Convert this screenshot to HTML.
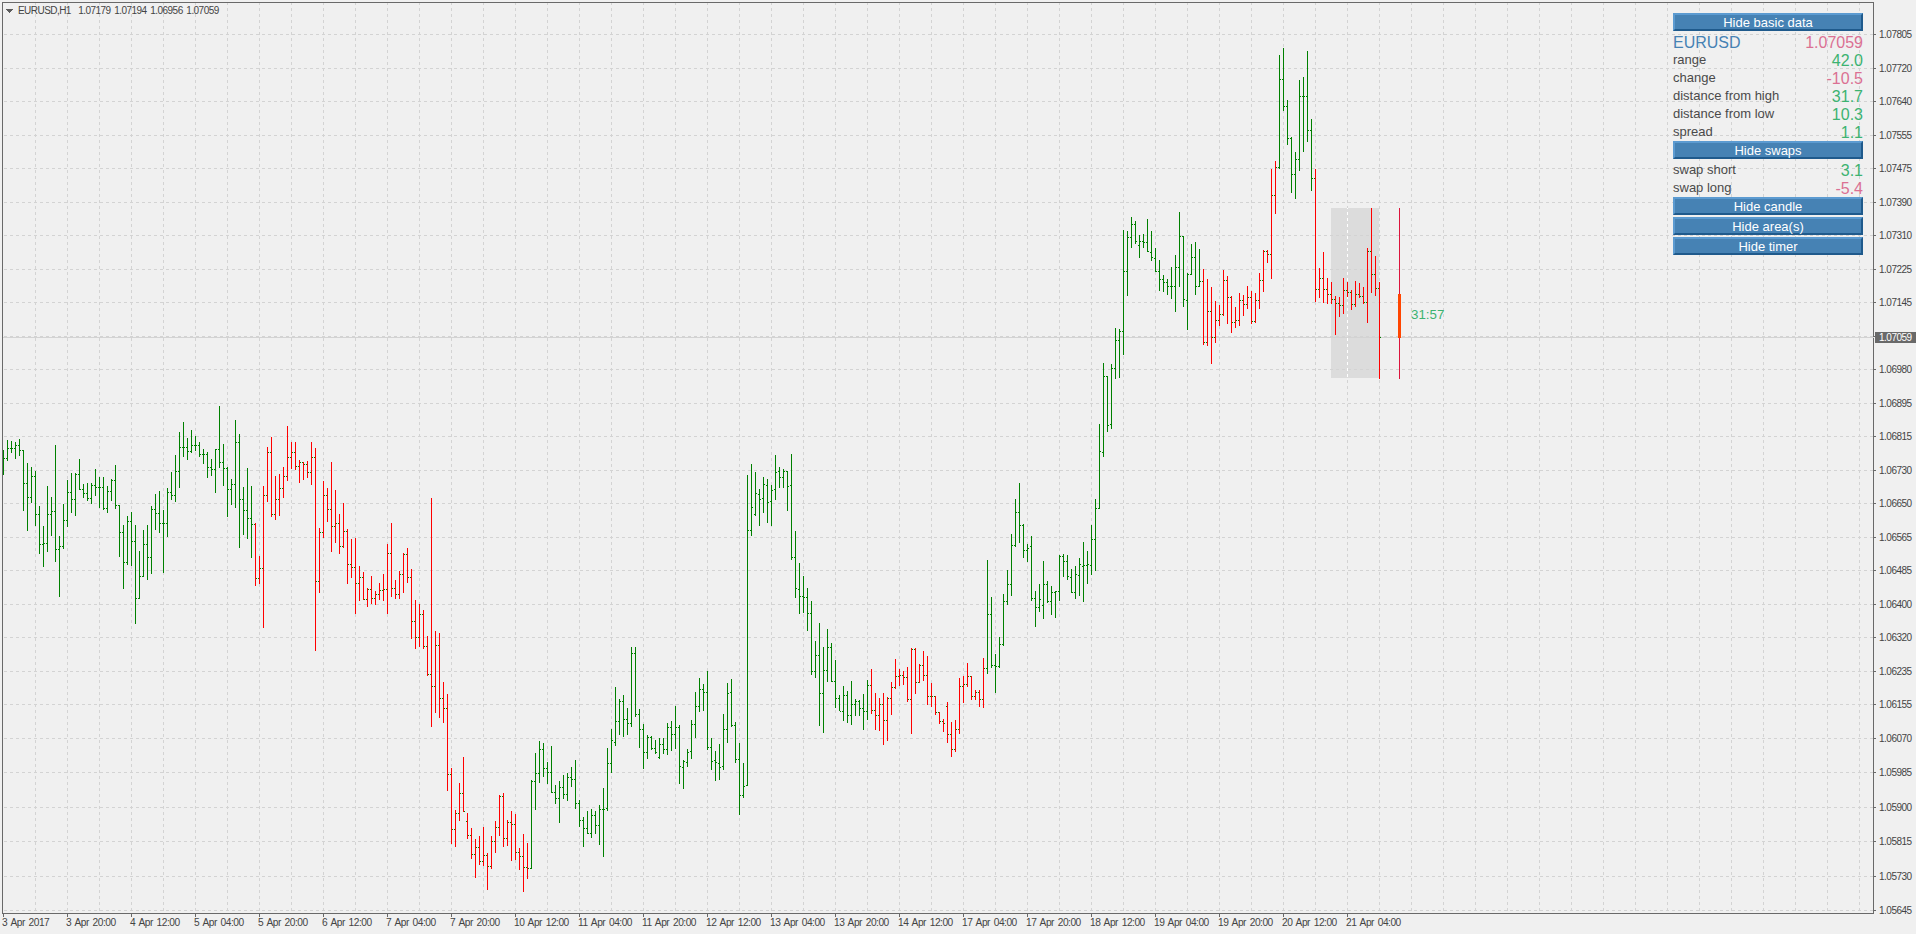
<!DOCTYPE html>
<html><head><meta charset="utf-8"><style>
html,body{margin:0;padding:0;background:#f0f0f0;width:1916px;height:934px;overflow:hidden;}
body{position:relative;font-family:"Liberation Sans", sans-serif;}
svg{position:absolute;left:0;top:0;}
.t{position:absolute;white-space:nowrap;line-height:1;}
.ax{font-size:10.2px;color:#444444;letter-spacing:-0.5px;word-spacing:1.5px;}
.pl{font-size:10px;color:#444444;letter-spacing:-0.5px;left:1879px;}
.lb{font-size:13px;color:#4a4a4a;left:1673px;}
.vl{font-size:16px;right:53px;}
.btn{position:absolute;left:1673px;width:190px;height:18px;box-sizing:border-box;background:#4682b4;
border-top:2px solid #5c9bd1;border-left:2px solid #5c9bd1;border-bottom:2px solid #1f5a8c;border-right:2px solid #1f5a8c;
color:#fff;font-size:13px;text-align:center;line-height:16px;}
.g{color:#3cb371;} .p{color:#db7093;}
</style></head><body>
<svg width="1916" height="934" viewBox="0 0 1916 934" shape-rendering="crispEdges">
<path d="M35.5 3V913M67.5 3V913M99.5 3V913M131.5 3V913M163.5 3V913M195.5 3V913M227.5 3V913M259.5 3V913M291.5 3V913M323.5 3V913M355.5 3V913M387.5 3V913M419.5 3V913M451.5 3V913M483.5 3V913M515.5 3V913M547.5 3V913M579.5 3V913M611.5 3V913M643.5 3V913M675.5 3V913M707.5 3V913M739.5 3V913M771.5 3V913M803.5 3V913M835.5 3V913M867.5 3V913M899.5 3V913M931.5 3V913M963.5 3V913M995.5 3V913M1027.5 3V913M1059.5 3V913M1091.5 3V913M1123.5 3V913M1155.5 3V913M1187.5 3V913M1219.5 3V913M1251.5 3V913M1283.5 3V913M1315.5 3V913M1347.5 3V913M1379.5 3V913M1411.5 3V913M1443.5 3V913M1475.5 3V913M1507.5 3V913M1539.5 3V913M1571.5 3V913M1603.5 3V913M1635.5 3V913M1667.5 3V913M1699.5 3V913M1731.5 3V913M1763.5 3V913M1795.5 3V913M1827.5 3V913M1859.5 3V913" stroke="#d3d3d3" stroke-width="1" stroke-dasharray="3 3" stroke-dashoffset="1" fill="none"/>
<rect x="1331" y="208" width="48" height="170" fill="#dcdcdc"/>
<path d="M1347.5 208V378" stroke="#ffffff" stroke-dasharray="3 3" stroke-dashoffset="2" fill="none"/>
<path d="M4 34.5H1873M4 68.5H1873M4 101.5H1873M4 135.5H1873M4 168.5H1873M4 202.5H1873M4 235.5H1873M4 269.5H1873M4 302.5H1873M4 336.5H1873M4 369.5H1873M4 403.5H1873M4 436.5H1873M4 470.5H1873M4 503.5H1873M4 537.5H1873M4 570.5H1873M4 604.5H1873M4 637.5H1873M4 671.5H1873M4 704.5H1873M4 738.5H1873M4 772.5H1873M4 807.5H1873M4 841.5H1873M4 876.5H1873M4 910.5H1873" stroke="#d3d3d3" stroke-width="1" stroke-dasharray="3 3" fill="none"/>
<rect x="3" y="337" width="1871" height="1" fill="#d3d3d3"/>
<path d="M3 450h1v25h-1zM7 440h1v21h-1zM11 441h1v12h-1zM15 442h1v17h-1zM19 439h1v17h-1zM23 450h1v61h-1zM27 463h1v68h-1zM31 467h1v36h-1zM35 471h1v55h-1zM39 506h1v48h-1zM43 526h1v41h-1zM47 486h1v66h-1zM51 497h1v39h-1zM55 445h1v117h-1zM59 536h1v61h-1zM63 504h1v45h-1zM67 480h1v47h-1zM71 473h1v40h-1zM75 473h1v43h-1zM79 459h1v31h-1zM83 484h1v14h-1zM87 483h1v18h-1zM91 483h1v21h-1zM95 469h1v27h-1zM99 477h1v31h-1zM103 477h1v33h-1zM107 486h1v27h-1zM111 479h1v22h-1zM115 465h1v44h-1zM119 505h1v52h-1zM123 525h1v64h-1zM127 516h1v49h-1zM131 512h1v54h-1zM135 525h1v99h-1zM139 551h1v48h-1zM143 530h1v47h-1zM147 525h1v55h-1zM151 506h1v68h-1zM155 494h1v36h-1zM159 491h1v42h-1zM163 510h1v63h-1zM167 488h1v49h-1zM171 472h1v28h-1zM175 455h1v47h-1zM179 432h1v56h-1zM183 422h1v35h-1zM187 438h1v22h-1zM191 430h1v23h-1zM195 436h1v15h-1zM199 442h1v15h-1zM203 449h1v15h-1zM207 452h1v26h-1zM211 459h1v17h-1zM215 449h1v44h-1zM219 406h1v62h-1zM223 444h1v42h-1zM227 467h1v50h-1zM231 479h1v26h-1zM235 420h1v88h-1zM239 434h1v114h-1zM243 487h1v48h-1zM247 468h1v71h-1zM251 486h1v72h-1zM531 780h1v89h-1zM535 753h1v57h-1zM539 741h1v42h-1zM543 743h1v34h-1zM547 762h1v22h-1zM551 746h1v47h-1zM555 785h1v19h-1zM559 781h1v42h-1zM563 775h1v24h-1zM567 773h1v28h-1zM571 767h1v20h-1zM575 760h1v49h-1zM579 800h1v27h-1zM583 817h1v30h-1zM587 811h1v23h-1zM591 809h1v29h-1zM595 811h1v23h-1zM599 805h1v40h-1zM603 788h1v69h-1zM607 748h1v63h-1zM611 729h1v44h-1zM615 687h1v59h-1zM619 699h1v36h-1zM623 695h1v42h-1zM627 708h1v27h-1zM631 647h1v80h-1zM635 647h1v70h-1zM639 709h1v39h-1zM643 724h1v45h-1zM647 735h1v24h-1zM651 736h1v14h-1zM655 740h1v14h-1zM659 738h1v21h-1zM663 738h1v16h-1zM667 723h1v32h-1zM671 721h1v30h-1zM675 706h1v43h-1zM679 725h1v59h-1zM683 760h1v29h-1zM687 749h1v18h-1zM691 720h1v39h-1zM695 692h1v46h-1zM699 678h1v34h-1zM703 684h1v27h-1zM707 671h1v79h-1zM711 738h1v32h-1zM715 751h1v30h-1zM719 744h1v36h-1zM723 714h1v56h-1zM727 683h1v60h-1zM731 679h1v48h-1zM735 722h1v41h-1zM739 743h1v72h-1zM743 763h1v35h-1zM747 475h1v311h-1zM751 464h1v72h-1zM755 472h1v44h-1zM759 489h1v37h-1zM763 477h1v36h-1zM767 479h1v44h-1zM771 485h1v41h-1zM775 455h1v45h-1zM779 467h1v21h-1zM783 469h1v19h-1zM787 471h1v40h-1zM791 454h1v106h-1zM795 531h1v67h-1zM799 563h1v51h-1zM803 576h1v37h-1zM807 588h1v43h-1zM811 601h1v74h-1zM815 641h1v37h-1zM819 623h1v103h-1zM823 647h1v86h-1zM827 629h1v53h-1zM831 643h1v39h-1zM835 660h1v48h-1zM839 695h1v16h-1zM843 686h1v35h-1zM847 691h1v32h-1zM851 681h1v44h-1zM855 699h1v17h-1zM859 700h1v16h-1zM863 694h1v36h-1zM867 680h1v40h-1zM987 560h1v114h-1zM991 597h1v71h-1zM995 654h1v39h-1zM999 637h1v31h-1zM1003 594h1v52h-1zM1007 570h1v35h-1zM1011 534h1v62h-1zM1015 499h1v48h-1zM1019 483h1v60h-1zM1023 524h1v34h-1zM1027 544h1v18h-1zM1031 536h1v65h-1zM1035 591h1v36h-1zM1039 584h1v28h-1zM1043 561h1v58h-1zM1047 581h1v22h-1zM1051 586h1v29h-1zM1055 591h1v27h-1zM1059 555h1v46h-1zM1063 554h1v23h-1zM1067 555h1v25h-1zM1071 569h1v24h-1zM1075 566h1v33h-1zM1079 558h1v38h-1zM1083 542h1v60h-1zM1087 551h1v33h-1zM1091 525h1v50h-1zM1095 499h1v72h-1zM1099 424h1v85h-1zM1103 363h1v94h-1zM1107 376h1v56h-1zM1111 364h1v65h-1zM1115 328h1v51h-1zM1119 329h1v49h-1zM1123 230h1v125h-1zM1127 231h1v65h-1zM1131 217h1v31h-1zM1135 221h1v23h-1zM1139 235h1v23h-1zM1143 234h1v14h-1zM1147 219h1v33h-1zM1151 231h1v30h-1zM1155 248h1v24h-1zM1159 260h1v31h-1zM1163 275h1v17h-1zM1167 279h1v16h-1zM1171 267h1v32h-1zM1175 255h1v57h-1zM1179 212h1v75h-1zM1183 236h1v71h-1zM1187 273h1v57h-1zM1191 244h1v31h-1zM1195 242h1v53h-1zM1199 249h1v38h-1zM1279 55h1v114h-1zM1283 48h1v63h-1zM1287 100h1v45h-1zM1291 137h1v56h-1zM1295 152h1v47h-1zM1299 80h1v91h-1zM1303 77h1v75h-1zM1307 51h1v91h-1zM1311 119h1v72h-1z" fill="#008000"/>
<path d="M255 523h1v63h-1zM259 556h1v28h-1zM263 486h1v142h-1zM267 447h1v55h-1zM271 437h1v80h-1zM275 476h1v44h-1zM279 474h1v42h-1zM283 467h1v31h-1zM287 426h1v55h-1zM291 442h1v27h-1zM295 442h1v28h-1zM299 460h1v23h-1zM303 462h1v18h-1zM307 461h1v17h-1zM311 442h1v43h-1zM315 448h1v203h-1zM319 528h1v65h-1zM323 481h1v57h-1zM327 488h1v34h-1zM331 462h1v90h-1zM335 490h1v53h-1zM339 514h1v40h-1zM343 503h1v45h-1zM347 529h1v55h-1zM351 539h1v39h-1zM355 538h1v76h-1zM359 566h1v35h-1zM363 572h1v28h-1zM367 588h1v19h-1zM371 576h1v28h-1zM375 591h1v14h-1zM379 583h1v17h-1zM383 574h1v27h-1zM387 544h1v70h-1zM391 523h1v74h-1zM395 580h1v19h-1zM399 571h1v28h-1zM403 553h1v40h-1zM407 548h1v35h-1zM411 569h1v70h-1zM415 600h1v49h-1zM419 604h1v43h-1zM423 610h1v39h-1zM427 636h1v40h-1zM431 498h1v229h-1zM435 631h1v82h-1zM439 633h1v85h-1zM443 682h1v41h-1zM447 694h1v97h-1zM451 768h1v76h-1zM455 810h1v37h-1zM459 783h1v38h-1zM463 757h1v55h-1zM467 813h1v26h-1zM471 828h1v31h-1zM475 839h1v39h-1zM479 836h1v29h-1zM483 827h1v39h-1zM487 853h1v37h-1zM491 836h1v33h-1zM495 821h1v32h-1zM499 795h1v41h-1zM503 793h1v54h-1zM507 820h1v26h-1zM511 811h1v50h-1zM515 814h1v46h-1zM519 848h1v22h-1zM523 834h1v58h-1zM527 843h1v36h-1zM871 669h1v45h-1zM875 693h1v37h-1zM879 698h1v33h-1zM883 693h1v52h-1zM887 697h1v44h-1zM891 682h1v33h-1zM895 659h1v30h-1zM899 669h1v17h-1zM903 671h1v14h-1zM907 667h1v35h-1zM911 648h1v86h-1zM915 648h1v46h-1zM919 664h1v19h-1zM923 651h1v30h-1zM927 656h1v49h-1zM931 683h1v24h-1zM935 696h1v19h-1zM939 712h1v12h-1zM943 719h1v13h-1zM947 702h1v41h-1zM951 722h1v35h-1zM955 720h1v32h-1zM959 678h1v56h-1zM963 676h1v27h-1zM967 663h1v24h-1zM971 676h1v24h-1zM975 690h1v10h-1zM979 690h1v17h-1zM983 658h1v50h-1zM1203 269h1v76h-1zM1207 279h1v67h-1zM1211 287h1v77h-1zM1215 301h1v42h-1zM1219 305h1v21h-1zM1223 270h1v46h-1zM1227 276h1v48h-1zM1231 296h1v37h-1zM1235 307h1v21h-1zM1239 293h1v33h-1zM1243 295h1v21h-1zM1247 286h1v23h-1zM1251 291h1v33h-1zM1255 293h1v30h-1zM1259 273h1v36h-1zM1263 250h1v42h-1zM1267 250h1v13h-1zM1271 169h1v110h-1zM1275 161h1v53h-1zM1315 169h1v133h-1zM1319 268h1v30h-1zM1323 252h1v51h-1zM1327 278h1v26h-1zM1331 282h1v22h-1zM1335 296h1v39h-1zM1339 297h1v20h-1zM1343 278h1v36h-1zM1347 282h1v15h-1zM1351 290h1v20h-1zM1355 281h1v26h-1zM1359 283h1v15h-1zM1363 287h1v17h-1zM1367 248h1v75h-1zM1371 208h1v85h-1zM1375 256h1v40h-1zM1379 282h1v97h-1z" fill="#ff0000"/>
<path d="M2 458h1v1h-1zM4 458h1v1h-1zM6 458h1v1h-1zM8 448h1v1h-1zM10 448h1v1h-1zM12 448h1v1h-1zM14 448h1v1h-1zM16 445h1v1h-1zM18 445h1v1h-1zM20 450h1v1h-1zM22 450h1v1h-1zM24 483h1v1h-1zM26 483h1v1h-1zM28 497h1v1h-1zM30 497h1v1h-1zM32 476h1v1h-1zM34 476h1v1h-1zM36 514h1v1h-1zM38 514h1v1h-1zM40 544h1v1h-1zM42 544h1v1h-1zM44 543h1v1h-1zM46 543h1v1h-1zM48 514h1v1h-1zM50 514h1v1h-1zM52 511h1v1h-1zM54 511h1v1h-1zM56 549h1v1h-1zM58 549h1v1h-1zM60 546h1v1h-1zM62 546h1v1h-1zM64 520h1v1h-1zM66 520h1v1h-1zM68 492h1v1h-1zM70 492h1v1h-1zM72 499h1v1h-1zM74 499h1v1h-1zM76 474h1v1h-1zM78 474h1v1h-1zM80 489h1v1h-1zM82 489h1v1h-1zM84 493h1v1h-1zM86 493h1v1h-1zM88 498h1v1h-1zM90 498h1v1h-1zM92 485h1v1h-1zM94 485h1v1h-1zM96 487h1v1h-1zM98 487h1v1h-1zM100 487h1v1h-1zM102 487h1v1h-1zM104 508h1v1h-1zM106 508h1v1h-1zM108 491h1v1h-1zM110 491h1v1h-1zM112 480h1v1h-1zM114 480h1v1h-1zM116 505h1v1h-1zM118 505h1v1h-1zM120 532h1v1h-1zM122 532h1v1h-1zM124 562h1v1h-1zM126 562h1v1h-1zM128 521h1v1h-1zM130 521h1v1h-1zM132 541h1v1h-1zM134 541h1v1h-1zM136 598h1v1h-1zM138 598h1v1h-1zM140 576h1v1h-1zM142 576h1v1h-1zM144 544h1v1h-1zM146 544h1v1h-1zM148 557h1v1h-1zM150 557h1v1h-1zM152 509h1v1h-1zM154 509h1v1h-1zM156 513h1v1h-1zM158 513h1v1h-1zM160 523h1v1h-1zM162 523h1v1h-1zM164 523h1v1h-1zM166 523h1v1h-1zM168 492h1v1h-1zM170 492h1v1h-1zM172 495h1v1h-1zM174 495h1v1h-1zM176 471h1v1h-1zM178 471h1v1h-1zM180 447h1v1h-1zM182 447h1v1h-1zM184 447h1v1h-1zM186 447h1v1h-1zM188 451h1v1h-1zM190 451h1v1h-1zM192 445h1v1h-1zM194 445h1v1h-1zM196 445h1v1h-1zM198 445h1v1h-1zM200 454h1v1h-1zM202 454h1v1h-1zM204 454h1v1h-1zM206 454h1v1h-1zM208 467h1v1h-1zM210 467h1v1h-1zM212 469h1v1h-1zM214 469h1v1h-1zM216 449h1v1h-1zM218 449h1v1h-1zM220 462h1v1h-1zM222 462h1v1h-1zM224 468h1v1h-1zM226 468h1v1h-1zM228 489h1v1h-1zM230 489h1v1h-1zM232 484h1v1h-1zM234 484h1v1h-1zM236 442h1v1h-1zM238 442h1v1h-1zM240 499h1v1h-1zM242 499h1v1h-1zM244 510h1v1h-1zM246 510h1v1h-1zM248 518h1v1h-1zM250 518h1v1h-1zM252 524h1v1h-1zM254 524h1v1h-1zM256 578h1v1h-1zM258 578h1v1h-1zM260 568h1v1h-1zM262 568h1v1h-1zM264 495h1v1h-1zM266 495h1v1h-1zM268 452h1v1h-1zM270 452h1v1h-1zM272 514h1v1h-1zM274 514h1v1h-1zM276 499h1v1h-1zM278 499h1v1h-1zM280 488h1v1h-1zM282 488h1v1h-1zM284 476h1v1h-1zM286 476h1v1h-1zM288 457h1v1h-1zM290 457h1v1h-1zM292 452h1v1h-1zM294 452h1v1h-1zM296 466h1v1h-1zM298 466h1v1h-1zM300 462h1v1h-1zM302 462h1v1h-1zM304 464h1v1h-1zM306 464h1v1h-1zM308 472h1v1h-1zM310 472h1v1h-1zM312 457h1v1h-1zM314 457h1v1h-1zM316 581h1v1h-1zM318 581h1v1h-1zM320 532h1v1h-1zM322 532h1v1h-1zM324 495h1v1h-1zM326 495h1v1h-1zM328 509h1v1h-1zM330 509h1v1h-1zM332 526h1v1h-1zM334 526h1v1h-1zM336 523h1v1h-1zM338 523h1v1h-1zM340 546h1v1h-1zM342 546h1v1h-1zM344 531h1v1h-1zM346 531h1v1h-1zM348 564h1v1h-1zM350 564h1v1h-1zM352 567h1v1h-1zM354 567h1v1h-1zM356 583h1v1h-1zM358 583h1v1h-1zM360 577h1v1h-1zM362 577h1v1h-1zM364 599h1v1h-1zM366 599h1v1h-1zM368 589h1v1h-1zM370 589h1v1h-1zM372 598h1v1h-1zM374 598h1v1h-1zM376 594h1v1h-1zM378 594h1v1h-1zM380 590h1v1h-1zM382 590h1v1h-1zM384 589h1v1h-1zM386 589h1v1h-1zM388 553h1v1h-1zM390 553h1v1h-1zM392 588h1v1h-1zM394 588h1v1h-1zM396 594h1v1h-1zM398 594h1v1h-1zM400 574h1v1h-1zM402 574h1v1h-1zM404 554h1v1h-1zM406 554h1v1h-1zM408 577h1v1h-1zM410 577h1v1h-1zM412 621h1v1h-1zM414 621h1v1h-1zM416 637h1v1h-1zM418 637h1v1h-1zM420 614h1v1h-1zM422 614h1v1h-1zM424 646h1v1h-1zM426 646h1v1h-1zM428 674h1v1h-1zM430 674h1v1h-1zM432 686h1v1h-1zM434 686h1v1h-1zM436 645h1v1h-1zM438 645h1v1h-1zM440 698h1v1h-1zM442 698h1v1h-1zM444 708h1v1h-1zM446 708h1v1h-1zM448 774h1v1h-1zM450 774h1v1h-1zM452 829h1v1h-1zM454 829h1v1h-1zM456 813h1v1h-1zM458 813h1v1h-1zM460 793h1v1h-1zM462 793h1v1h-1zM464 811h1v1h-1zM466 821h1v1h-1zM468 835h1v1h-1zM470 835h1v1h-1zM472 854h1v1h-1zM474 854h1v1h-1zM476 847h1v1h-1zM478 847h1v1h-1zM480 861h1v1h-1zM482 861h1v1h-1zM484 855h1v1h-1zM486 855h1v1h-1zM488 866h1v1h-1zM490 866h1v1h-1zM492 841h1v1h-1zM494 841h1v1h-1zM496 827h1v1h-1zM498 827h1v1h-1zM500 796h1v1h-1zM502 796h1v1h-1zM504 838h1v1h-1zM506 838h1v1h-1zM508 822h1v1h-1zM510 822h1v1h-1zM512 824h1v1h-1zM514 824h1v1h-1zM516 852h1v1h-1zM518 852h1v1h-1zM520 856h1v1h-1zM522 856h1v1h-1zM524 867h1v1h-1zM526 867h1v1h-1zM528 868h1v1h-1zM530 868h1v1h-1zM532 781h1v1h-1zM534 781h1v1h-1zM536 773h1v1h-1zM538 773h1v1h-1zM540 749h1v1h-1zM542 749h1v1h-1zM544 768h1v1h-1zM546 768h1v1h-1zM548 772h1v1h-1zM550 772h1v1h-1zM552 792h1v1h-1zM554 792h1v1h-1zM556 798h1v1h-1zM558 798h1v1h-1zM560 787h1v1h-1zM562 787h1v1h-1zM564 794h1v1h-1zM566 794h1v1h-1zM568 777h1v1h-1zM570 777h1v1h-1zM572 779h1v1h-1zM574 779h1v1h-1zM576 803h1v1h-1zM578 803h1v1h-1zM580 820h1v1h-1zM582 820h1v1h-1zM584 828h1v1h-1zM586 828h1v1h-1zM588 833h1v1h-1zM590 833h1v1h-1zM592 815h1v1h-1zM594 815h1v1h-1zM596 825h1v1h-1zM598 825h1v1h-1zM600 809h1v1h-1zM602 809h1v1h-1zM604 809h1v1h-1zM606 808h1v1h-1zM608 763h1v1h-1zM610 763h1v1h-1zM612 740h1v1h-1zM614 742h1v1h-1zM616 721h1v1h-1zM618 721h1v1h-1zM620 701h1v1h-1zM622 701h1v1h-1zM624 719h1v1h-1zM626 719h1v1h-1zM628 723h1v1h-1zM630 723h1v1h-1zM632 653h1v1h-1zM634 653h1v1h-1zM636 714h1v1h-1zM638 714h1v1h-1zM640 729h1v1h-1zM642 729h1v1h-1zM644 752h1v1h-1zM646 752h1v1h-1zM648 737h1v1h-1zM650 737h1v1h-1zM652 748h1v1h-1zM654 748h1v1h-1zM656 752h1v1h-1zM658 757h1v1h-1zM660 744h1v1h-1zM662 744h1v1h-1zM664 749h1v1h-1zM666 749h1v1h-1zM668 727h1v1h-1zM670 727h1v1h-1zM672 734h1v1h-1zM674 734h1v1h-1zM676 727h1v1h-1zM678 727h1v1h-1zM680 766h1v1h-1zM682 767h1v1h-1zM684 761h1v1h-1zM686 762h1v1h-1zM688 752h1v1h-1zM690 751h1v1h-1zM692 724h1v1h-1zM694 724h1v1h-1zM696 706h1v1h-1zM698 706h1v1h-1zM700 689h1v1h-1zM702 689h1v1h-1zM704 692h1v1h-1zM706 692h1v1h-1zM708 747h1v1h-1zM710 747h1v1h-1zM712 761h1v1h-1zM714 760h1v1h-1zM716 762h1v1h-1zM718 763h1v1h-1zM720 767h1v1h-1zM722 766h1v1h-1zM724 729h1v1h-1zM726 729h1v1h-1zM728 693h1v1h-1zM730 692h1v1h-1zM732 725h1v1h-1zM734 725h1v1h-1zM736 759h1v1h-1zM738 759h1v1h-1zM740 795h1v1h-1zM742 795h1v1h-1zM744 786h1v1h-1zM746 785h1v1h-1zM748 530h1v1h-1zM750 530h1v1h-1zM752 507h1v1h-1zM754 514h1v1h-1zM756 493h1v1h-1zM758 494h1v1h-1zM760 499h1v1h-1zM762 498h1v1h-1zM764 484h1v1h-1zM766 485h1v1h-1zM768 502h1v1h-1zM770 501h1v1h-1zM772 490h1v1h-1zM774 489h1v1h-1zM776 472h1v1h-1zM778 471h1v1h-1zM780 477h1v1h-1zM782 477h1v1h-1zM784 471h1v1h-1zM786 471h1v1h-1zM788 486h1v1h-1zM790 485h1v1h-1zM792 557h1v1h-1zM794 557h1v1h-1zM796 588h1v1h-1zM798 589h1v1h-1zM800 596h1v1h-1zM802 596h1v1h-1zM804 597h1v1h-1zM806 597h1v1h-1zM808 613h1v1h-1zM810 613h1v1h-1zM812 671h1v1h-1zM814 671h1v1h-1zM816 655h1v1h-1zM818 655h1v1h-1zM820 693h1v1h-1zM822 693h1v1h-1zM824 670h1v1h-1zM826 670h1v1h-1zM828 647h1v1h-1zM830 647h1v1h-1zM832 681h1v1h-1zM834 681h1v1h-1zM836 698h1v1h-1zM838 698h1v1h-1zM840 711h1v1h-1zM842 711h1v1h-1zM844 695h1v1h-1zM846 695h1v1h-1zM848 715h1v1h-1zM850 715h1v1h-1zM852 704h1v1h-1zM854 704h1v1h-1zM856 701h1v1h-1zM858 701h1v1h-1zM860 708h1v1h-1zM862 708h1v1h-1zM864 711h1v1h-1zM866 711h1v1h-1zM868 685h1v1h-1zM870 685h1v1h-1zM872 710h1v1h-1zM874 710h1v1h-1zM876 715h1v1h-1zM878 715h1v1h-1zM880 704h1v1h-1zM882 704h1v1h-1zM884 720h1v1h-1zM886 720h1v1h-1zM888 698h1v1h-1zM890 698h1v1h-1zM892 687h1v1h-1zM894 687h1v1h-1zM896 676h1v1h-1zM898 676h1v1h-1zM900 675h1v1h-1zM902 675h1v1h-1zM904 677h1v1h-1zM906 677h1v1h-1zM908 699h1v1h-1zM910 699h1v1h-1zM912 649h1v1h-1zM914 649h1v1h-1zM916 682h1v1h-1zM918 682h1v1h-1zM920 665h1v1h-1zM922 665h1v1h-1zM924 675h1v1h-1zM926 675h1v1h-1zM928 696h1v1h-1zM930 696h1v1h-1zM932 696h1v1h-1zM934 696h1v1h-1zM936 712h1v1h-1zM938 712h1v1h-1zM940 721h1v1h-1zM942 721h1v1h-1zM944 723h1v1h-1zM946 706h1v1h-1zM948 734h1v1h-1zM950 734h1v1h-1zM952 749h1v1h-1zM954 749h1v1h-1zM956 729h1v1h-1zM958 729h1v1h-1zM960 686h1v1h-1zM962 686h1v1h-1zM964 684h1v1h-1zM966 684h1v1h-1zM968 676h1v1h-1zM970 676h1v1h-1zM972 696h1v1h-1zM974 696h1v1h-1zM976 692h1v1h-1zM978 692h1v1h-1zM980 699h1v1h-1zM982 699h1v1h-1zM984 668h1v1h-1zM986 668h1v1h-1zM988 614h1v1h-1zM990 614h1v1h-1zM992 665h1v1h-1zM994 665h1v1h-1zM996 666h1v1h-1zM998 666h1v1h-1zM1000 644h1v1h-1zM1002 644h1v1h-1zM1004 601h1v1h-1zM1006 601h1v1h-1zM1008 584h1v1h-1zM1010 584h1v1h-1zM1012 545h1v1h-1zM1014 545h1v1h-1zM1016 512h1v1h-1zM1018 512h1v1h-1zM1020 525h1v1h-1zM1022 525h1v1h-1zM1024 550h1v1h-1zM1026 550h1v1h-1zM1028 548h1v1h-1zM1030 546h1v1h-1zM1032 598h1v1h-1zM1034 598h1v1h-1zM1036 607h1v1h-1zM1038 607h1v1h-1zM1040 599h1v1h-1zM1042 605h1v1h-1zM1044 584h1v1h-1zM1046 584h1v1h-1zM1048 601h1v1h-1zM1050 601h1v1h-1zM1052 592h1v1h-1zM1054 592h1v1h-1zM1056 591h1v1h-1zM1058 591h1v1h-1zM1060 556h1v1h-1zM1062 556h1v1h-1zM1064 561h1v1h-1zM1066 561h1v1h-1zM1068 576h1v1h-1zM1070 577h1v1h-1zM1072 592h1v1h-1zM1074 592h1v1h-1zM1076 574h1v1h-1zM1078 575h1v1h-1zM1080 564h1v1h-1zM1082 566h1v1h-1zM1084 565h1v1h-1zM1086 565h1v1h-1zM1088 564h1v1h-1zM1090 565h1v1h-1zM1092 539h1v1h-1zM1094 539h1v1h-1zM1096 508h1v1h-1zM1098 508h1v1h-1zM1100 451h1v1h-1zM1102 452h1v1h-1zM1104 376h1v1h-1zM1106 376h1v1h-1zM1108 425h1v1h-1zM1110 424h1v1h-1zM1112 368h1v1h-1zM1114 368h1v1h-1zM1116 340h1v1h-1zM1118 340h1v1h-1zM1120 331h1v1h-1zM1122 331h1v1h-1zM1124 271h1v1h-1zM1126 271h1v1h-1zM1128 237h1v1h-1zM1130 237h1v1h-1zM1132 224h1v1h-1zM1134 224h1v1h-1zM1136 241h1v1h-1zM1138 245h1v1h-1zM1140 241h1v1h-1zM1142 241h1v1h-1zM1144 242h1v1h-1zM1146 242h1v1h-1zM1148 251h1v1h-1zM1150 252h1v1h-1zM1152 257h1v1h-1zM1154 258h1v1h-1zM1156 271h1v1h-1zM1158 271h1v1h-1zM1160 279h1v1h-1zM1162 279h1v1h-1zM1164 282h1v1h-1zM1166 282h1v1h-1zM1168 286h1v1h-1zM1170 286h1v1h-1zM1172 286h1v1h-1zM1174 286h1v1h-1zM1176 267h1v1h-1zM1178 267h1v1h-1zM1180 236h1v1h-1zM1182 236h1v1h-1zM1184 299h1v1h-1zM1186 300h1v1h-1zM1188 274h1v1h-1zM1190 274h1v1h-1zM1192 257h1v1h-1zM1194 257h1v1h-1zM1196 286h1v1h-1zM1198 286h1v1h-1zM1200 281h1v1h-1zM1202 281h1v1h-1zM1204 342h1v1h-1zM1206 342h1v1h-1zM1208 311h1v1h-1zM1210 311h1v1h-1zM1212 337h1v1h-1zM1214 337h1v1h-1zM1216 320h1v1h-1zM1218 320h1v1h-1zM1220 314h1v1h-1zM1222 314h1v1h-1zM1224 280h1v1h-1zM1226 280h1v1h-1zM1228 297h1v1h-1zM1230 297h1v1h-1zM1232 322h1v1h-1zM1234 322h1v1h-1zM1236 320h1v1h-1zM1238 320h1v1h-1zM1240 300h1v1h-1zM1242 300h1v1h-1zM1244 304h1v1h-1zM1246 304h1v1h-1zM1248 297h1v1h-1zM1250 297h1v1h-1zM1252 321h1v1h-1zM1254 321h1v1h-1zM1256 300h1v1h-1zM1258 300h1v1h-1zM1260 280h1v1h-1zM1262 280h1v1h-1zM1264 251h1v1h-1zM1266 251h1v1h-1zM1268 254h1v1h-1zM1270 254h1v1h-1zM1272 195h1v1h-1zM1274 195h1v1h-1zM1276 167h1v1h-1zM1278 167h1v1h-1zM1280 79h1v1h-1zM1282 79h1v1h-1zM1284 106h1v1h-1zM1286 106h1v1h-1zM1288 138h1v1h-1zM1290 138h1v1h-1zM1292 174h1v1h-1zM1294 174h1v1h-1zM1296 159h1v1h-1zM1298 159h1v1h-1zM1300 96h1v1h-1zM1302 96h1v1h-1zM1304 96h1v1h-1zM1306 96h1v1h-1zM1308 130h1v1h-1zM1310 130h1v1h-1zM1312 178h1v1h-1zM1314 178h1v1h-1zM1316 289h1v1h-1zM1318 289h1v1h-1zM1320 278h1v1h-1zM1322 278h1v1h-1zM1324 289h1v1h-1zM1326 289h1v1h-1zM1328 294h1v1h-1zM1330 294h1v1h-1zM1332 299h1v1h-1zM1334 299h1v1h-1zM1336 303h1v1h-1zM1338 303h1v1h-1zM1340 305h1v1h-1zM1342 305h1v1h-1zM1344 290h1v1h-1zM1346 290h1v1h-1zM1348 292h1v1h-1zM1350 292h1v1h-1zM1352 304h1v1h-1zM1354 304h1v1h-1zM1356 294h1v1h-1zM1358 294h1v1h-1zM1360 296h1v1h-1zM1362 296h1v1h-1zM1364 302h1v1h-1zM1366 302h1v1h-1zM1368 251h1v1h-1zM1370 251h1v1h-1zM1372 274h1v1h-1zM1374 274h1v1h-1zM1376 288h1v1h-1zM1378 288h1v1h-1zM1380 337h1v1h-1z" fill="#008000"/>
<rect x="1399" y="208" width="1" height="171" fill="#dc143c"/>
<rect x="1398" y="294" width="3" height="44" fill="#ff4500"/>
<rect x="2" y="2" width="1872" height="1" fill="#696969"/>
<rect x="2" y="913" width="1872" height="1" fill="#696969"/>
<rect x="2" y="2" width="1" height="912" fill="#696969"/>
<rect x="1873" y="2" width="1" height="912" fill="#696969"/>
<rect x="1873" y="337" width="1" height="1" fill="#d3d3d3"/>
<path d="M1874 34h2v1h-2zM1874 68h2v1h-2zM1874 101h2v1h-2zM1874 135h2v1h-2zM1874 168h2v1h-2zM1874 202h2v1h-2zM1874 235h2v1h-2zM1874 269h2v1h-2zM1874 302h2v1h-2zM1874 336h2v1h-2zM1874 369h2v1h-2zM1874 403h2v1h-2zM1874 436h2v1h-2zM1874 470h2v1h-2zM1874 503h2v1h-2zM1874 537h2v1h-2zM1874 570h2v1h-2zM1874 604h2v1h-2zM1874 637h2v1h-2zM1874 671h2v1h-2zM1874 704h2v1h-2zM1874 738h2v1h-2zM1874 772h2v1h-2zM1874 807h2v1h-2zM1874 841h2v1h-2zM1874 876h2v1h-2zM1874 910h2v1h-2z" fill="#696969"/>
<path d="M3 914h1v3h-1zM67 914h1v3h-1zM131 914h1v3h-1zM195 914h1v3h-1zM259 914h1v3h-1zM323 914h1v3h-1zM387 914h1v3h-1zM451 914h1v3h-1zM515 914h1v3h-1zM579 914h1v3h-1zM643 914h1v3h-1zM707 914h1v3h-1zM771 914h1v3h-1zM835 914h1v3h-1zM899 914h1v3h-1zM963 914h1v3h-1zM1027 914h1v3h-1zM1091 914h1v3h-1zM1155 914h1v3h-1zM1219 914h1v3h-1zM1283 914h1v3h-1zM1347 914h1v3h-1z" fill="#696969"/>
<rect x="1875" y="332" width="41" height="11" fill="#696969"/>
<path d="M6 9h7l-3.5 4z" fill="#5c5c5c"/>
</svg>

<div class="t" style="left:18px;top:6px;font-size:10px;color:#444444;letter-spacing:-0.55px;word-spacing:1.5px;">EURUSD,H1&nbsp;&nbsp;1.07179 1.07194 1.06956 1.07059</div>
<div class="t pl" style="top:30px;">1.07805</div>
<div class="t pl" style="top:64px;">1.07720</div>
<div class="t pl" style="top:97px;">1.07640</div>
<div class="t pl" style="top:131px;">1.07555</div>
<div class="t pl" style="top:164px;">1.07475</div>
<div class="t pl" style="top:198px;">1.07390</div>
<div class="t pl" style="top:231px;">1.07310</div>
<div class="t pl" style="top:265px;">1.07225</div>
<div class="t pl" style="top:298px;">1.07145</div>
<div class="t pl" style="top:365px;">1.06980</div>
<div class="t pl" style="top:399px;">1.06895</div>
<div class="t pl" style="top:432px;">1.06815</div>
<div class="t pl" style="top:466px;">1.06730</div>
<div class="t pl" style="top:499px;">1.06650</div>
<div class="t pl" style="top:533px;">1.06565</div>
<div class="t pl" style="top:566px;">1.06485</div>
<div class="t pl" style="top:600px;">1.06400</div>
<div class="t pl" style="top:633px;">1.06320</div>
<div class="t pl" style="top:667px;">1.06235</div>
<div class="t pl" style="top:700px;">1.06155</div>
<div class="t pl" style="top:734px;">1.06070</div>
<div class="t pl" style="top:768px;">1.05985</div>
<div class="t pl" style="top:803px;">1.05900</div>
<div class="t pl" style="top:837px;">1.05815</div>
<div class="t pl" style="top:872px;">1.05730</div>
<div class="t pl" style="top:906px;">1.05645</div>
<div class="t pl" style="top:333px;color:#fff;">1.07059</div>
<div class="t ax" style="left:2px;top:918px;">3 Apr 2017</div>
<div class="t ax" style="left:66px;top:918px;">3 Apr 20:00</div>
<div class="t ax" style="left:130px;top:918px;">4 Apr 12:00</div>
<div class="t ax" style="left:194px;top:918px;">5 Apr 04:00</div>
<div class="t ax" style="left:258px;top:918px;">5 Apr 20:00</div>
<div class="t ax" style="left:322px;top:918px;">6 Apr 12:00</div>
<div class="t ax" style="left:386px;top:918px;">7 Apr 04:00</div>
<div class="t ax" style="left:450px;top:918px;">7 Apr 20:00</div>
<div class="t ax" style="left:514px;top:918px;">10 Apr 12:00</div>
<div class="t ax" style="left:578px;top:918px;">11 Apr 04:00</div>
<div class="t ax" style="left:642px;top:918px;">11 Apr 20:00</div>
<div class="t ax" style="left:706px;top:918px;">12 Apr 12:00</div>
<div class="t ax" style="left:770px;top:918px;">13 Apr 04:00</div>
<div class="t ax" style="left:834px;top:918px;">13 Apr 20:00</div>
<div class="t ax" style="left:898px;top:918px;">14 Apr 12:00</div>
<div class="t ax" style="left:962px;top:918px;">17 Apr 04:00</div>
<div class="t ax" style="left:1026px;top:918px;">17 Apr 20:00</div>
<div class="t ax" style="left:1090px;top:918px;">18 Apr 12:00</div>
<div class="t ax" style="left:1154px;top:918px;">19 Apr 04:00</div>
<div class="t ax" style="left:1218px;top:918px;">19 Apr 20:00</div>
<div class="t ax" style="left:1282px;top:918px;">20 Apr 12:00</div>
<div class="t ax" style="left:1346px;top:918px;">21 Apr 04:00</div>
<div class="btn" style="top:13px;">Hide basic data</div>
<div class="btn" style="top:141px;">Hide swaps</div>
<div class="btn" style="top:197px;">Hide candle</div>
<div class="btn" style="top:217px;">Hide area(s)</div>
<div class="btn" style="top:237px;">Hide timer</div>
<div class="t" style="left:1673px;top:34.5px;font-size:16px;color:#4682b4;">EURUSD</div>
<div class="t vl p" style="top:34.5px;">1.07059</div>
<div class="t lb" style="top:53px;">range</div>
<div class="t vl g" style="top:52.5px;">42.0</div>
<div class="t lb" style="top:71px;">change</div>
<div class="t vl p" style="top:70.5px;">-10.5</div>
<div class="t lb" style="top:89px;">distance from high</div>
<div class="t vl g" style="top:88.5px;">31.7</div>
<div class="t lb" style="top:107px;">distance from low</div>
<div class="t vl g" style="top:106.5px;">10.3</div>
<div class="t lb" style="top:125px;">spread</div>
<div class="t vl g" style="top:124.5px;">1.1</div>
<div class="t lb" style="top:163px;">swap short</div>
<div class="t vl g" style="top:162.5px;">3.1</div>
<div class="t lb" style="top:181px;">swap long</div>
<div class="t vl p" style="top:180.5px;">-5.4</div>
<div class="t g" style="left:1411px;top:307.7px;font-size:13.3px;">31:57</div>
</body></html>
